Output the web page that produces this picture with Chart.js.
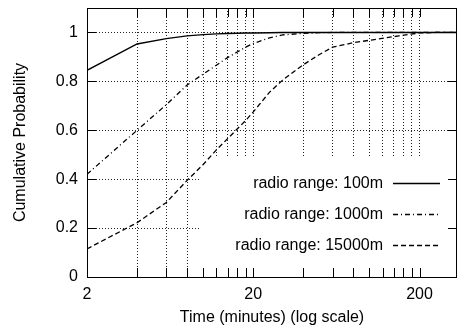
<!DOCTYPE html>
<html>
<head>
<meta charset="utf-8">
<script src="https://cdn.jsdelivr.net/npm/chart.js@4"></script>
<style>
  html, body { margin: 0; padding: 0; background: #fff; }
</style>
</head>
<body>
<canvas id="chart" width="458" height="327"></canvas>
<script>
// Time in minutes (log x axis)
const times = [2, 4, 6, 8, 10, 12, 14, 16, 18, 20, 25, 30, 40, 50, 60, 80, 100, 150, 200, 250, 336];

// Cumulative probability per radio range
const range100   = [0.845, 0.953, 0.975, 0.986, 0.991, 0.994, 0.996, 0.997, 0.998, 0.998, 0.999, 1, 1, 1, 1, 1, 1, 1, 1, 1, 1];
const range1000  = [0.42, 0.60, 0.705, 0.785, 0.83, 0.866, 0.897, 0.92, 0.94, 0.955, 0.978, 0.99, 0.996, 0.999, 1, 1, 1, 1, 1, 1, 1];
const range15000 = [0.115, 0.222, 0.305, 0.395, 0.46, 0.52, 0.565, 0.605, 0.64, 0.675, 0.755, 0.805, 0.868, 0.91, 0.94, 0.958, 0.968, 0.986, 0.998, 1, 1];

const seriesNames = ['radio range: 100m', 'radio range: 1000m', 'radio range: 15000m'];

// Tick positions
const xTicks = [2, 4, 6, 8, 10, 12, 14, 16, 18, 20, 40, 60, 80, 100, 120, 140, 160, 180, 200];
const xTickLabels = [2, 20, 200];
const yTicks = [0, 0.2, 0.4, 0.6, 0.8, 1];

const FONT = "'Liberation Sans', Arial, Helvetica, sans-serif";

function toPoints(values) {
    return times.map((t, i) => ({ x: t, y: values[i] }));
}

// Frame, inward ticks and the opaque key box (gnuplot style)
const gnuplotFrame = {
    id: 'gnuplotFrame',
    beforeDatasetsDraw(chart) {
        const { ctx, chartArea: a } = chart;
        ctx.save();
        ctx.fillStyle = '#fff';
        ctx.fillRect(200, 158, a.right - 200, a.bottom - 158);
        ctx.restore();
    },
    afterDatasetsDraw(chart) {
        const { ctx, chartArea: a } = chart;
        const xs = chart.scales.x, ys = chart.scales.y;

        // key
        ctx.save();
        ctx.font = '16px ' + FONT;
        ctx.fillStyle = '#000';
        ctx.textAlign = 'right';
        ctx.textBaseline = 'middle';
        chart.data.datasets.forEach((ds, i) => {
            const y = 183 + i * 31;
            ctx.fillText(ds.label, 383, y + 1);
            ctx.beginPath();
            ctx.setLineDash(ds.borderDash || []);
            ctx.lineWidth = ds.borderWidth;
            ctx.strokeStyle = '#000';
            ctx.moveTo(393, y + 0.5);
            ctx.lineTo(440, y + 0.5);
            ctx.stroke();
        });
        ctx.setLineDash([]);

        // border
        ctx.lineWidth = 1;
        ctx.strokeStyle = '#000';
        ctx.strokeRect(a.left + 0.5, a.top + 0.5, a.right - a.left - 1, a.bottom - a.top);

        // inward ticks
        const len = 9;
        ctx.beginPath();
        xTicks.forEach(v => {
            const px = Math.round(xs.getPixelForValue(v)) + 0.5;
            ctx.moveTo(px, a.bottom);
            ctx.lineTo(px, a.bottom - len);
            ctx.moveTo(px, a.top);
            ctx.lineTo(px, a.top + len);
        });
        yTicks.forEach(v => {
            const py = Math.round(ys.getPixelForValue(v)) + 0.5;
            ctx.moveTo(a.left, py);
            ctx.lineTo(a.left + len, py);
            ctx.moveTo(a.right, py);
            ctx.lineTo(a.right - len, py);
        });
        ctx.stroke();
        ctx.restore();
    }
};

new Chart(document.getElementById('chart'), {
    type: 'line',
    data: {
        datasets: [{
            label: seriesNames[0],
            data: toPoints(range100),
            borderColor: '#000',
            borderWidth: 1.4,
            borderDash: []
        }, {
            label: seriesNames[1],
            data: toPoints(range1000),
            borderColor: '#000',
            borderWidth: 1.3,
            borderDash: [5, 3, 1, 3]
        }, {
            label: seriesNames[2],
            data: toPoints(range15000),
            borderColor: '#000',
            borderWidth: 1.3,
            borderDash: [5, 3]
        }]
    },
    options: {
        responsive: false,
        animation: false,
        devicePixelRatio: 1,
        layout: { padding: { top: 8, right: 1, left: 0, bottom: 0 } },
        elements: {
            point: { radius: 0 },
            line: { tension: 0, fill: false }
        },
        plugins: {
            legend: { display: false },
            tooltip: { enabled: false }
        },
        scales: {
            x: {
                type: 'logarithmic',
                min: 2,
                max: 336,
                afterBuildTicks: s => { s.ticks = xTicks.map(v => ({ value: v })); },
                afterFit: s => { s.height = 50; s.paddingLeft = 0; s.paddingRight = 0; },
                grid: { color: '#222', lineWidth: 1, drawTicks: false },
                border: { display: false, dash: [1, 2] },
                ticks: {
                    autoSkip: false,
                    maxRotation: 0,
                    padding: 8,
                    color: '#000',
                    font: { family: FONT, size: 16 },
                    callback: v => xTickLabels.includes(v) ? String(v) : ''
                },
                title: {
                    display: true,
                    text: 'Time (minutes) (log scale)',
                    color: '#000',
                    font: { family: FONT, size: 16 },
                    padding: { top: 0, bottom: 0 }
                }
            },
            y: {
                type: 'linear',
                min: 0,
                max: 1.1,
                afterBuildTicks: s => { s.ticks = yTicks.map(v => ({ value: v })); },
                afterFit: s => { s.width = 87; s.paddingTop = 0; s.paddingBottom = 0; },
                grid: { color: '#222', lineWidth: 1, drawTicks: false },
                border: { display: false, dash: [1, 2] },
                ticks: {
                    padding: 9,
                    color: '#000',
                    font: { family: FONT, size: 16 },
                    callback: v => String(+v.toFixed(1))
                },
                title: {
                    display: true,
                    text: 'Cumulative Probability',
                    color: '#000',
                    font: { family: FONT, size: 16 },
                    padding: { top: 11, bottom: 0 }
                }
            }
        }
    },
    plugins: [gnuplotFrame]
});
</script>
</body>
</html>
